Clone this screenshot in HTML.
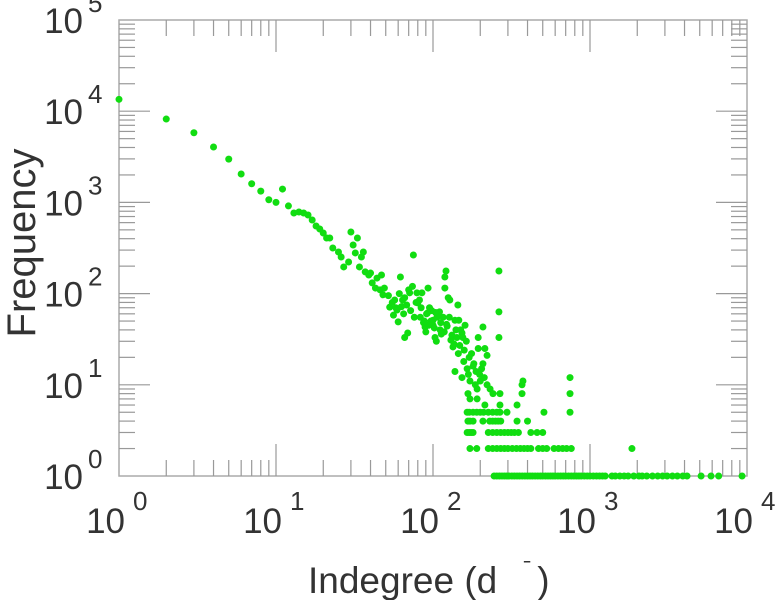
<!DOCTYPE html>
<html><head><meta charset="utf-8">
<style>
html,body{margin:0;padding:0;background:#fff;}
svg{display:block;font-family:"Liberation Sans",sans-serif;}
</style></head>
<body>
<svg id="chart" width="779" height="600" viewBox="0 0 779 600" xmlns="http://www.w3.org/2000/svg">
<rect x="119" y="20" width="628" height="456" fill="none" stroke="#aaa" stroke-width="1.5"/>
<g id="ticks"></g>
<g id="xlabels"></g>
<g id="ylabels"></g>
<g id="points"></g>
<text transform="translate(35,243) rotate(-90)" text-anchor="middle" font-size="40" fill="#333">Frequency</text>
<text x="308" y="593" font-size="37" fill="#333">Indegree (d<tspan dx="26" dy="-16" font-size="24">ˉ</tspan><tspan dx="6" dy="16">)</tspan></text>
</svg>
<script>
const xTickExps = [0, 1, 2, 3, 4];
const yTickExps = [0, 1, 2, 3, 4, 5];
const degrees = [
1,2,3,4,5,6,7,8,9,10,11,12,13,14,15,16,17,18,19,20,21,22,23,25,26,27,29,30,31,33,32,35,36,34,37,39,40,44,47,41,43,46,49,48,62,75,53,57,56,60,64,66,71,79,85,93,119,119,125,128,80,82,92,83,89,96,100,111,116,108,127,138,144,146,150,153,155,160,100,110,90,69,66,105,130,140,103,97,115,
121,263,263,263,208,194,214,194,221,208,165,138,153,172,191,221,231,267,241,167,172,191,214,267,369,343,374,369,296,746,746,746,509,
52,55,58,61,65,68,72,76,78,84,87,91,94,98,102,106,112,118,122,132,136,142,148,158,163,170,176,182,188,198,204,212,95,88,74,70,63,59,104,113,123,134,145,157,168,180,186,200,
165,170,180,190,200,210,225,240,255,267,
167,172,180,208,230,240,250,260,270,343,400,
165,170,175,180,225,240,255,270,285,300,315,330,350,420,460,500,
172,190,225,240,255,270,285,300,320,340,360,380,400,420,470,500,530,590,630,670,710,760,1850,
245,255,265,275,285,295,305,318,330,343,356,370,385,400,415,430,447,465,483,500,520,540,560,580,600,625,650,675,700,730,760,790,820,850,880,920,960,1000,1050,1100,1150,1200,1250,1380,1450,1550,1650,1750,1900,2050,2150,2300,2500,2700,2900,3100,3350,3600,3900,4150,5100,5900,6600,9300];
const frequencies = [
13500,8200,5800,4050,2980,2050,1600,1330,1070,1000,1400,915,765,785,765,728,641,551,511,462,407,407,316,286,252,196,222,474,341,407,279,252,286,196,173,160,168,148,160,131,115,110,115,97,152,265,71,85,58,49,85,90,102,102,102,115,152,115,90,85,79,85,61,55,43,67,51,40,55,58,55,51,75,51,40,37,33,45,45,63,38,37,33,30,31,40,33,50,38,
177,177,63,33,43,33,25,25,21,17,15,14,12,11,9,10,9,8,8,8,7,7,6,6,10,6,11,8,5,12,8,5,5,
95,80,70,100,60,75,65,55,80,70,48,60,45,65,42,55,48,38,46,35,28,33,27,24,30,20,22,17,14,13,15,12,70,50,120,110,72,66,62,36,44,26,22,18,13,16,10,11,
5,5,5,5,5,5,5,5,5,5,
4,4,4,4,4,4,4,4,4,4,4,
3,3,3,3,3,3,3,3,3,3,3,3,3,3,3,3,
2,2,2,2,2,2,2,2,2,2,2,2,2,2,2,2,2,2,2,2,2,2,2,
1,1,1,1,1,1,1,1,1,1,1,1,1,1,1,1,1,1,1,1,1,1,1,1,1,1,1,1,1,1,1,1,1,1,1,1,1,1,1,1,1,1,1,1,1,1,1,1,1,1,1,1,1,1,1,1,1,1,1,1,1,1,1,1];

const X0 = 119, X1 = 747, Y0 = 476, Y1 = 20;
const xMinE = 0, xMaxE = 4, yMinE = 0, yMaxE = 5;
function xs(v){ return X0 + (Math.log10(v) - xMinE) / (xMaxE - xMinE) * (X1 - X0); }
function ys(v){ return Y0 - (Math.log10(v) - yMinE) / (yMaxE - yMinE) * (Y0 - Y1); }
const NS = "http://www.w3.org/2000/svg";
function mk(tag, attrs, parent){ const e = document.createElementNS(NS, tag); for (const k in attrs) e.setAttribute(k, attrs[k]); parent.appendChild(e); return e; }

const tg = document.getElementById('ticks');
for (let e = xMinE; e < xMaxE; e++) {
  for (let m = 1; m <= 9; m++) {
    if (e === xMinE && m === 1) continue;
    const x = xs(m * Math.pow(10, e));
    const len = m === 1 ? 32 : 16;
    const a = mk('line', {x1:x, y1:Y0, x2:x, y2:Y0-len, stroke:'#999', 'stroke-width':1.2}, tg);
    
    
    const b = mk('line', {x1:x, y1:Y1, x2:x, y2:Y1+len, stroke:'#999', 'stroke-width':1.2}, tg);
    
    
  }
}
for (let e = yMinE; e < yMaxE; e++) {
  for (let m = 1; m <= 9; m++) {
    if (e === yMinE && m === 1) continue;
    const y = ys(m * Math.pow(10, e));
    const len = m === 1 ? 31 : 16;
    const a = mk('line', {x1:X0, y1:y, x2:X0+len, y2:y, stroke:'#999', 'stroke-width':1.2}, tg);
    
    
    const b = mk('line', {x1:X1, y1:y, x2:X1-len, y2:y, stroke:'#999', 'stroke-width':1.2}, tg);
    
    
  }
}

const xl = document.getElementById('xlabels');
xTickExps.forEach(e => {
  const x = xs(Math.pow(10, e));
  const t = mk('text', {x:x+6, y:533, 'text-anchor':'end', 'font-size':35, fill:'#333'}, xl);
  t.textContent = '10';
  
  
  const s = mk('text', {x:x+14, y:510, 'font-size':26, fill:'#333'}, xl);
  s.textContent = String(e);
  
  
});
const yl = document.getElementById('ylabels');
yTickExps.forEach(e => {
  const y = ys(Math.pow(10, e));
  const t = mk('text', {x:83, y:y+13, 'text-anchor':'end', 'font-size':35, fill:'#333'}, yl);
  t.textContent = '10';
  
  
  const s = mk('text', {x:88, y:y-8, 'font-size':26, fill:'#333'}, yl);
  s.textContent = String(e);
  
  
});

const pg = document.getElementById('points');
for (let i = 0; i < degrees.length; i++) {
  const c = mk('circle', {cx:xs(degrees[i]), cy:ys(frequencies[i]), r:3.5, fill:'#11dd11'}, pg);
  
  
}
</script>
</body></html>
